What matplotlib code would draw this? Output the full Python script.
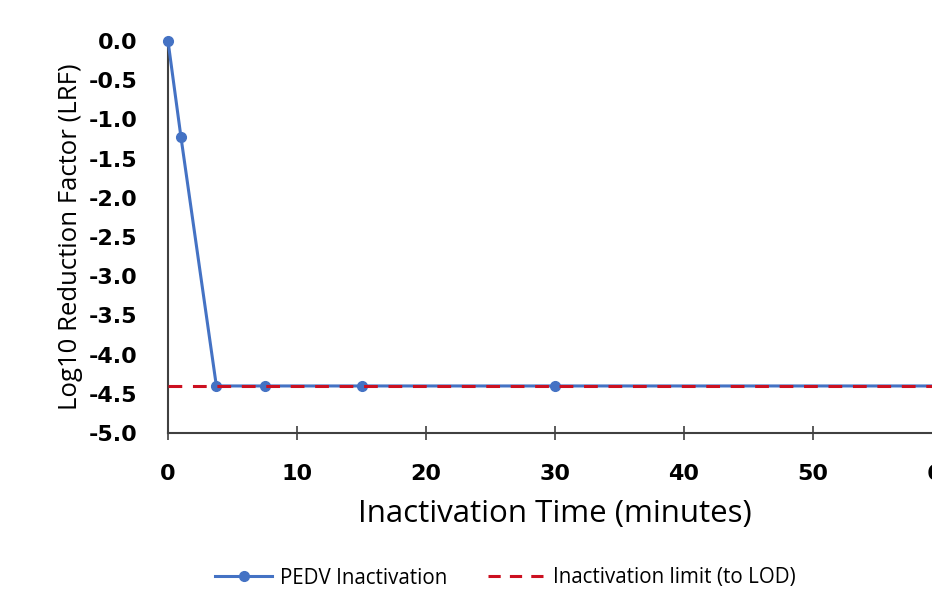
import matplotlib
matplotlib.use("Agg")
import matplotlib.pyplot as plt
from matplotlib.lines import Line2D

times = [0, 1, 3.75, 7.5, 15, 30, 60]
lrf = [0.0, -1.22, -4.4, -4.4, -4.4, -4.4, -4.4]
limit_x = [0, 62]
limit_y = [-4.4, -4.4]
xticks = [0, 10, 20, 30, 40, 50, 60]
yticks = [0.0, -0.5, -1.0, -1.5, -2.0, -2.5, -3.0, -3.5, -4.0, -4.5, -5.0]

plt.rcParams['font.family'] = ['Open Sans', 'DejaVu Sans']

fig = plt.figure(figsize=(9.32, 5.94), dpi=100)
ax = fig.add_axes([168/932, 1-433/594, 774/932, 392/594])

blue = '#4472C4'
red = '#CC1020'
ax.plot(times, lrf, color=blue, lw=2.2, marker='o', ms=7, zorder=3, clip_on=False)
ax.plot(limit_x, limit_y, color=red, lw=2.2, ls=(0, (4.5, 3.5)), zorder=4)

ax.set_xlim(0, 60)
ax.set_ylim(-5.0, 0.0)
ax.set_xticks(xticks)
ax.set_yticks(yticks)
ax.set_yticklabels([f"{v:.1f}" for v in yticks])
for lab in ax.get_xticklabels() + ax.get_yticklabels():
    lab.set_fontweight('bold')
    lab.set_fontsize(16)
    lab.set_fontfamily('DejaVu Sans')
ax.tick_params(axis='x', direction='inout', length=10, width=1.2, color='#404040', pad=17)
ax.tick_params(axis='y', length=0, pad=22)

for s in ['top', 'right']:
    ax.spines[s].set_visible(False)
for s in ['left', 'bottom']:
    ax.spines[s].set_color('#404040')
    ax.spines[s].set_linewidth(1.5)

ax.set_xlabel('Inactivation Time (minutes)', fontsize=22.5, labelpad=11)
ax.set_ylabel('Log10 Reduction Factor (LRF)', fontsize=18.5, labelpad=4)

handles = [
    Line2D([], [], color=blue, lw=2.2, marker='o', ms=7),
    Line2D([], [], color=red, lw=2.2, ls=(0, (4, 3))),
]
fig.legend(handles, ['PEDV Inactivation', 'Inactivation limit (to LOD)'],
           loc='center', bbox_to_anchor=(505/932, 1-578/594), ncol=2,
           frameon=False, fontsize=14.8, handlelength=2.8, columnspacing=2.0,
           handletextpad=0.35)

fig.savefig('out.png', dpi=100)
